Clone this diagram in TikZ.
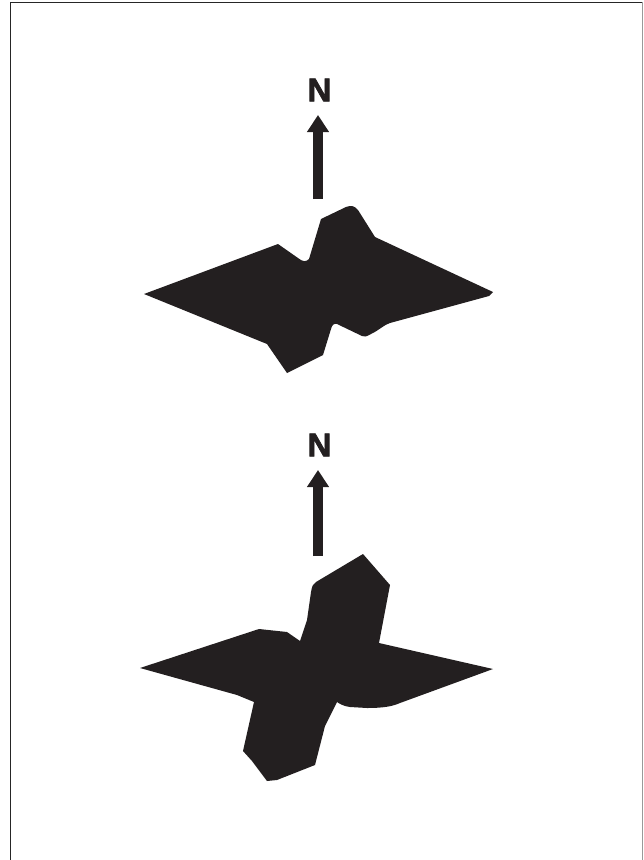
\documentclass[tikz,border=0pt]{standalone}
\usepackage{fontspec}
\setmainfont{Liberation Sans}
\newfontfamily\heavyfont[FakeBold=2.2]{Liberation Sans Bold}
\usetikzlibrary{arrows.meta}
\definecolor{ink}{HTML}{231F20}
\tikzset{
  blob/.style={fill=ink, draw=none},
  northlabel/.style={font=\heavyfont\fontsize{33}{33}\selectfont, text=ink, inner sep=0pt},
  northarrow/.style={draw=ink, line width=10pt, -{Triangle[width=21pt,length=17pt]}},
  frameline/.style={line width=1pt}
}
\begin{document}
\begin{tikzpicture}[x=1pt,y=-1pt]
\useasboundingbox (0,0) rectangle (643,860);
% frame
\draw[frameline, draw=black!85] (10.5,860) -- (10.5,2) -- (642,2);
\draw[frameline, draw=black!40] (642,2) -- (642,860);

% top compass
\node[northlabel] (n1) at (319.5,90) {N};
\coordinate (a1s) at (318,199);
\coordinate (a1e) at (318,115);
\draw[northarrow] (a1s) -- (a1e);

% top shape
\fill[blob] (144,294) -- (278,244) -- (298,258)
  .. controls (303,262) and (306,262) .. (309,259)
  -- (321,219) -- (346,207)
  .. controls (351,205) and (355,206) .. (358,210)
  -- (375,237) -- (493,292) -- (489,296) -- (390,323)
  .. controls (382,326) and (378,331) .. (371,334)
  .. controls (366,337) and (364,337) .. (362,336)
  -- (337,324) .. controls (334,323) and (332,325) .. (331,329)
  -- (323,355) -- (287,373) -- (267,344) -- cycle;

% bottom compass
\node[northlabel] (n2) at (319.5,445) {N};
\coordinate (a2s) at (318,556);
\coordinate (a2e) at (318,470);
\draw[northarrow] (a2s) -- (a2e);

% bottom shape
\fill[blob] (140,668) -- (259,629) -- (287,632) -- (300,641)
  -- (307,620) -- (311,592) .. controls (312,586) and (313,584) .. (316,582)
  -- (363,554) -- (390,585) -- (379,643) -- (493,669)
  -- (400,703) .. controls (393,706) and (385,708) .. (367,708)
  -- (350,707) .. controls (343,706) and (340,704) .. (337,702)
  -- (325,726) -- (315,765) -- (277,780) -- (267,781)
  -- (252,761) -- (243,751) -- (254,702) -- (237,695) -- cycle;
\end{tikzpicture}
\end{document}
